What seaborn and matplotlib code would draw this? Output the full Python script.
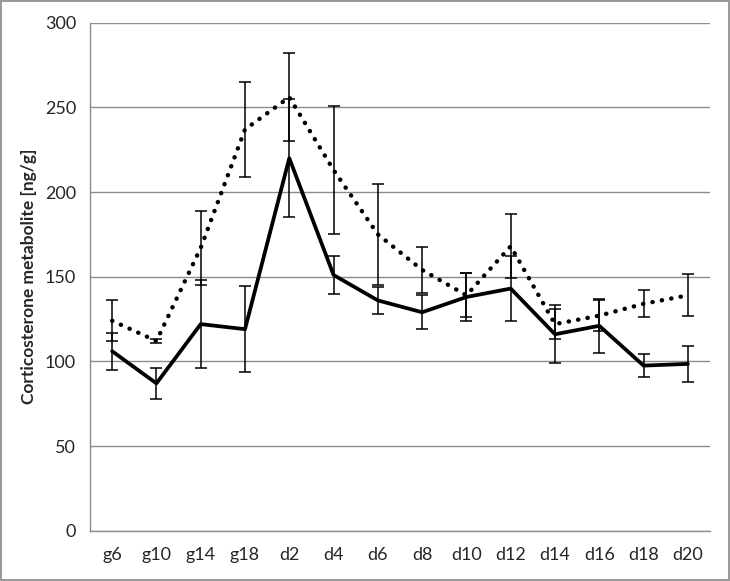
import matplotlib
matplotlib.use('Agg')
import matplotlib.pyplot as plt
import seaborn as sns
import pandas as pd
import numpy as np

days = ['g6', 'g10', 'g14', 'g18', 'd2', 'd4', 'd6', 'd8', 'd10', 'd12', 'd14', 'd16', 'd18', 'd20']

solid_mean = [106, 87, 122, 119, 220, 151, 136, 129, 138, 143, 116, 121, 97.5, 98.5]
solid_err = [11, 9, 26, 25.5, 35, 11.5, 8, 10, 14, 19, 17, 16, 7, 10.5]

dotted_mean = [124, 112, 167, 237, 256, 213, 175, 154, 139, 168, 122, 127, 134, 139]
dotted_err = [12, 1, 22, 28, 26, 38, 30, 13.5, 13, 19, 9, 9, 8, 12.5]

df = pd.DataFrame({'day': days, 'solid': solid_mean, 'dotted': dotted_mean})

sns.set_style('white')
plt.rcParams['font.family'] = ['Lato', 'DejaVu Sans']

fig = plt.figure(figsize=(7.3, 5.81), dpi=100)
fig.patch.set_edgecolor('#9a9a9a')
fig.patch.set_linewidth(1.5)
ax = fig.add_axes([90 / 730, 1 - 530.7 / 581, 620 / 730, 508 / 581])

x = np.arange(len(days))

sns.lineplot(x=x, y=df['dotted'], ax=ax, color='black', lw=3.2,
             linestyle=(0, (0.05, 2.1)), dash_capstyle='round', solid_capstyle='round')
sns.lineplot(x=x, y=df['solid'], ax=ax, color='black', lw=2.7)
ax.lines[0].set_dash_capstyle('round')

ax.errorbar(x, dotted_mean, yerr=dotted_err, fmt='none', ecolor='black',
            elinewidth=1.1, capsize=4, capthick=1.1)
ax.errorbar(x, solid_mean, yerr=solid_err, fmt='none', ecolor='black',
            elinewidth=1.1, capsize=4, capthick=1.1)

ax.set_xlim(-0.5, len(days) - 0.5)
ax.set_ylim(0, 300)
ax.set_yticks(range(0, 301, 50))
ax.set_xticks(x)
ax.set_xticklabels(days)
ax.set_xticks(np.arange(-0.5, len(days), 1), minor=True)
ax.tick_params(axis='x', which='major', length=0, pad=12, labelsize=13)
ax.tick_params(axis='x', which='minor', length=5, color='#8c8c8c', width=1)
ax.tick_params(axis='y', length=5, color='#8c8c8c', width=1, labelsize=13, pad=5)

ax.yaxis.grid(True, color='#8c8c8c', lw=1)
ax.set_axisbelow(True)
for s in ['top', 'right']:
    ax.spines[s].set_visible(False)
for s in ['left', 'bottom']:
    ax.spines[s].set_color('#8c8c8c')
    ax.spines[s].set_linewidth(1)

ax.set_xlabel('')
ax.set_ylabel('Corticosterone metabolite [ng/g]', fontsize=12.5, fontweight='bold', labelpad=6)

fig.savefig('out.png', dpi=100)
